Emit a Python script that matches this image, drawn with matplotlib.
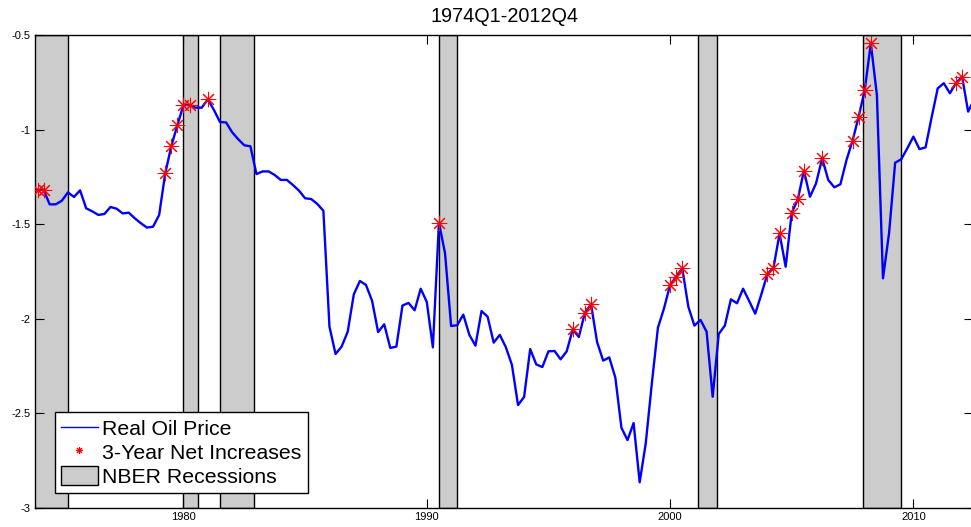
import matplotlib
matplotlib.use("Agg")
import matplotlib.pyplot as plt
import numpy as np

plt.rcParams['font.family'] = ['Liberation Sans', 'DejaVu Sans']

# ---- data -------------------------------------------------------------
start_year = 1974
oil = [
    -1.319, -1.319, -1.395, -1.395,   # 1974
    -1.376, -1.332, -1.356, -1.321,   # 1975
    -1.416, -1.432, -1.451, -1.446,   # 1976
    -1.409, -1.418, -1.443, -1.439,   # 1977
    -1.469, -1.495, -1.518, -1.513,   # 1978
    -1.451, -1.231, -1.087, -0.976,   # 1979
    -0.870, -0.870, -0.884, -0.884,   # 1980
    -0.840, -0.896, -0.960, -0.962,   # 1981
    -1.014, -1.051, -1.083, -1.088,   # 1982
    -1.235, -1.221, -1.221, -1.240,   # 1983
    -1.266, -1.266, -1.293, -1.323,   # 1984
    -1.363, -1.367, -1.393, -1.429,   # 1985
    -2.042, -2.186, -2.147, -2.068,   # 1986
    -1.871, -1.800, -1.821, -1.904,   # 1987
    -2.070, -2.029, -2.154, -2.147,   # 1988
    -1.930, -1.916, -1.955, -1.841,   # 1989
    -1.911, -2.151, -1.492, -1.654,   # 1990
    -2.038, -2.034, -1.978, -2.085,   # 1991
    -2.142, -1.959, -1.989, -2.126,   # 1992
    -2.085, -2.150, -2.244, -2.456,   # 1993
    -2.413, -2.160, -2.241, -2.255,   # 1994
    -2.172, -2.170, -2.214, -2.172,   # 1995
    -2.056, -2.096, -1.967, -1.923,   # 1996
    -2.123, -2.221, -2.204, -2.311,   # 1997
    -2.576, -2.641, -2.551, -2.864,   # 1998
    -2.658, -2.341, -2.047, -1.945,   # 1999
    -1.821, -1.777, -1.733, -1.936,   # 2000
    -2.036, -2.006, -2.068, -2.412,   # 2001
    -2.080, -2.036, -1.897, -1.918,   # 2002
    -1.841, -1.906, -1.973, -1.871,   # 2003
    -1.763, -1.730, -1.549, -1.725,   # 2004
    -1.439, -1.369, -1.217, -1.355,   # 2005
    -1.284, -1.152, -1.266, -1.305,   # 2006
    -1.289, -1.161, -1.059, -0.932,   # 2007
    -0.791, -0.544, -0.817, -1.786,   # 2008
    -1.548, -1.175, -1.157, -1.099,   # 2009
    -1.037, -1.103, -1.094, -0.935,   # 2010
    -0.782, -0.755, -0.808, -0.755,   # 2011
    -0.720, -0.905, -0.840, -0.860,   # 2012
]

net_increase_quarters = [
    "1974Q1", "1974Q2", "1979Q2", "1979Q3", "1979Q4", "1980Q1", "1980Q2",
    "1981Q1", "1990Q3", "1996Q1", "1996Q3", "1996Q4", "2000Q1", "2000Q2",
    "2000Q3", "2004Q1", "2004Q2", "2004Q3", "2005Q1", "2005Q2", "2005Q3",
    "2006Q2", "2007Q3", "2007Q4", "2008Q1", "2008Q2", "2011Q4", "2012Q1",
]

# NBER recessions: (peak year, peak month, trough year, trough month)
recessions = [
    (1973, 11, 1975, 3),
    (1980, 1, 1980, 7),
    (1981, 7, 1982, 11),
    (1990, 7, 1991, 3),
    (2001, 3, 2001, 11),
    (2007, 12, 2009, 6),
]

x_ticks = [1980, 1990, 2000, 2010]
y_ticks = [-3, -2.5, -2, -1.5, -1, -0.5]
y_tick_labels = ["-3", "-2.5", "-2", "-1.5", "-1", "-0.5"]
title = "1974Q1-2012Q4"

# ---- derived ----------------------------------------------------------
oil = np.array(oil)
t = start_year + np.arange(len(oil)) / 4.0
idx = [(int(q[:4]) - start_year) * 4 + int(q[-1]) - 1 for q in net_increase_quarters]
star_t = t[idx]
star_v = oil[idx]

# ---- figure -----------------------------------------------------------
W, H = 971, 527
fig = plt.figure(figsize=(W / 100, H / 100), dpi=100)
ax = fig.add_axes([35 / W, 19 / H, 938 / W, 473 / H])

band_color = (0.8, 0.8, 0.8)
for i, (py, pm, ty, tm) in enumerate(recessions):
    ax.axvspan(py + (pm - 1) / 12.0, ty + tm / 12.0, ymin=0, ymax=1,
               facecolor=band_color, edgecolor='black', linewidth=1.0,
               zorder=1, label="NBER Recessions" if i == 0 else None)

ax.plot(t, oil, color=(0, 0, 1), linewidth=1.7, zorder=3, label="Real Oil Price")
ax.plot(star_t, star_v, linestyle='none', marker=(8, 2, 0), markersize=11,
        markeredgecolor=(1, 0, 0), markeredgewidth=0.75, color=(1, 0, 0),
        zorder=4, label="3-Year Net Increases")

ax.set_xlim(1973.897, 2012.45)
ax.set_ylim(-3, -0.5)
ax.set_xticks(x_ticks)
ax.set_xticklabels([str(v) for v in x_ticks])
ax.set_yticks(y_ticks)
ax.set_yticklabels(y_tick_labels)
ax.tick_params(direction='in', length=6.5, width=0.8, top=True, right=True,
               labelsize=8, pad=3)
for s in ax.spines.values():
    s.set_linewidth(1.0)
    s.set_color('black')

ax.set_title(title, fontsize=14.3, pad=9)

handles, labels = ax.get_legend_handles_labels()
order = [labels.index("Real Oil Price"), labels.index("3-Year Net Increases"),
         labels.index("NBER Recessions")]
leg = ax.legend([handles[i] for i in order], [labels[i] for i in order],
                loc='lower left', bbox_to_anchor=(20 / 938, 15 / 473),
                borderaxespad=0, fontsize=15.3, frameon=True, fancybox=False,
                edgecolor='black', framealpha=1, handlelength=1.7,
                handleheight=1.0, handletextpad=0.2, labelspacing=0.14,
                borderpad=0.3)
leg.get_frame().set_linewidth(1.0)
lh = leg.legend_handles
lh[0].set_linewidth(1.0)
lh[1].set_markersize(5)

fig.savefig("out.png", dpi=100)
